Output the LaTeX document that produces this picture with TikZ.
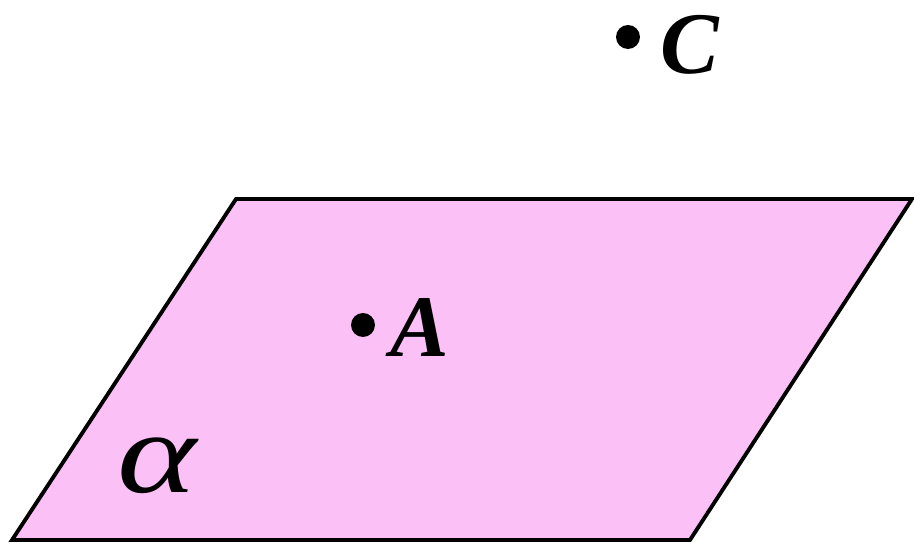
\documentclass[tikz,border=0pt]{standalone}
\usepackage{fontspec}
\setmainfont{Liberation Serif}
\usepackage{xcolor}
\usetikzlibrary{positioning}
\definecolor{planepink}{RGB}{251,192,245}

\begin{document}
\begin{tikzpicture}[
  x=0.02cm, y=-0.02cm,
  plane/.style={draw=black, fill=planepink, line width=2.2pt, line join=miter},
  dot/.style={circle, fill=black, inner sep=0pt, minimum size=0.48cm},
  lbl/.style={font=\fontsize{50}{50}\selectfont\bfseries\itshape, inner sep=0pt},
]
  \useasboundingbox (0,0) rectangle (914,543);

  % the plane alpha
  \coordinate (p1) at (236,199);
  \coordinate (p2) at (912,199);
  \coordinate (p3) at (690,540);
  \coordinate (p4) at (12,540);
  \draw[plane] (p1) -- (p2) -- (p3) -- (p4) -- cycle;

  \node[font=\fontsize{66}{66}\selectfont\itshape, inner sep=0pt, xscale=1.3] (alpha) at (157,466) {α};

  % points
  \node[dot] (ptA) at (363,325) {};
  \node[lbl, right=0.3cm of ptA, yshift=-0.05cm] (labA) {A};

  \node[dot] (ptC) at (628,37) {};
  \node[lbl, right=0.4cm of ptC, yshift=-0.15cm] (labC) {C};
\end{tikzpicture}
\end{document}
